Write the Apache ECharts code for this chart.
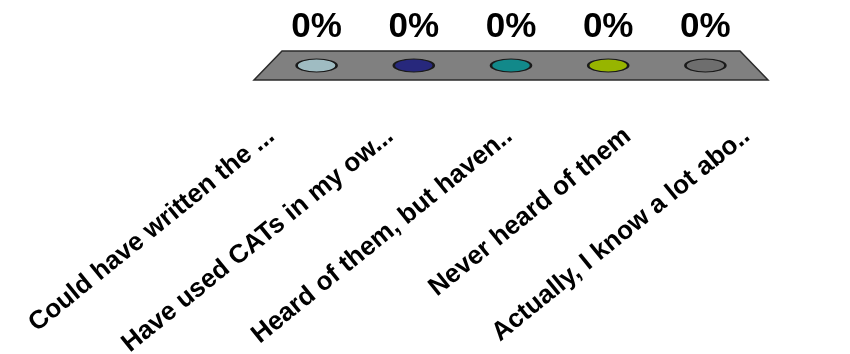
<!DOCTYPE html>
<html>
<head>
<meta charset="utf-8">
<script src="https://cdn.jsdelivr.net/npm/echarts@6/dist/echarts.min.js"></script>
<style>
  html, body { margin: 0; padding: 0; background: #ffffff; }
  #chart { width: 850px; height: 354px; }
</style>
</head>
<body>
<div id="chart"></div>
<script>
// data
const categories = [
  'Could have written the ...',
  'Have used CATs in my ow...',
  'Heard of them, but haven..',
  'Never heard of them',
  'Actually, I know a lot abo..',
];
const percentValues = [0, 0, 0, 0, 0];

// styles
const barColors = ['#9fbcc2', '#27287c', '#12898a', '#97b500', '#6e6e6e'];
const floorDepth = 14.5;
const floorSlant = 14;

const chart = echarts.init(document.getElementById('chart'));

// flat grey floor under the bars, built from the category band extents
const renderFloor = (params, api) => {
  const first = api.coord([0, 0]);
  const last = api.coord([categories.length - 1, 0]);
  const half = api.size([1, 0])[0] / 2;
  const lx = first[0] - half;
  const rx = last[0] + half;
  const y = first[1];
  return {
    type: 'polygon',
    shape: {
      points: [
        [lx + floorSlant, y - floorDepth],
        [rx - floorSlant, y - floorDepth],
        [rx + floorSlant, y + floorDepth],
        [lx - floorSlant, y + floorDepth],
      ],
    },
    style: { fill: '#808080', stroke: '#2b2b2b', lineWidth: 1.5 },
  };
};

chart.setOption({
  animation: false,
  grid: [
    { left: 268, right: 96, top: 20, bottom: 288.5, outerBoundsMode: 'none' },
    { left: 212, right: 44, top: 60, bottom: 231, outerBoundsMode: 'none' },
  ],
  xAxis: [
    { type: 'category', gridIndex: 0, data: categories, show: false },
    {
      type: 'category',
      gridIndex: 1,
      data: categories,
      axisLine: { show: false },
      axisTick: { show: false },
      axisLabel: {
        interval: 0,
        rotate: 39,
        margin: 10,
        color: '#000000',
        fontFamily: 'Liberation Sans',
        fontWeight: 'bold',
        fontSize: 26,
      },
    },
  ],
  yAxis: [
    { type: 'value', gridIndex: 0, min: 0, max: 100, show: false },
    { type: 'value', gridIndex: 1, show: false },
  ],
  series: [
    {
      type: 'custom',
      xAxisIndex: 0,
      yAxisIndex: 0,
      renderItem: renderFloor,
      data: [[0, 0]],
      z: 1,
      silent: true,
    },
    {
      type: 'scatter',
      xAxisIndex: 0,
      yAxisIndex: 0,
      data: percentValues,
      symbol: 'circle',
      symbolSize: [40, 13],
      z: 2,
      itemStyle: {
        color: (p) => barColors[p.dataIndex],
        borderColor: '#1a1a1a',
        borderWidth: 1.5,
        opacity: 1,
      },
      label: {
        show: true,
        position: 'top',
        distance: 14,
        formatter: (p) => p.value + '%',
        color: '#000000',
        fontFamily: 'Liberation Sans',
        fontWeight: 'bold',
        fontSize: 35,
      },
    },
  ],
});
</script>
</body>
</html>
